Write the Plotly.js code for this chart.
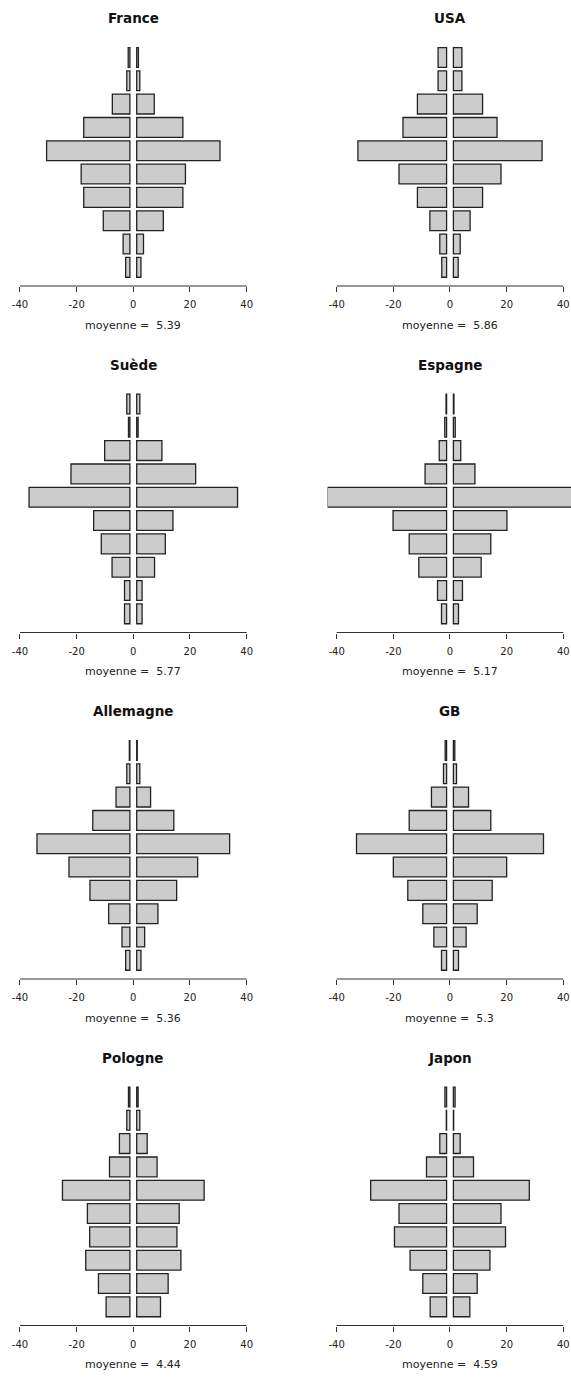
<!DOCTYPE html>
<html>
<head>
<meta charset="utf-8">
<script src="https://cdn.plot.ly/plotly-3.0.1.min.js"></script>
<style>html,body{margin:0;padding:0;background:#fff;}</style>
</head>
<body>
<div id="chart" style="width:571px;height:1386px;"></div>
<script>
// ---- data (levels 1..10, bottom to top; percentages) ----
var levels = [1, 2, 3, 4, 5, 6, 7, 8, 9, 10];
var countries = ["France", "USA", "Suède", "Espagne", "Allemagne", "GB", "Pologne", "Japon"];
var moyennes = ["5.39", "5.86", "5.77", "5.17", "5.36", "5.3", "4.44", "4.59"];
var france    = [1.5, 2.4, 9.4, 16.3, 17.2, 29.4, 16.3, 6.2, 1.1, 0.6];
var usa       = [1.7, 2.4, 5.9, 10.3, 16.8, 31.3, 15.4, 10.3, 3.0, 3.0];
var suede     = [1.9, 1.9, 6.3, 10.1, 12.8, 35.6, 20.8, 8.9, 0.5, 1.1];
var espagne   = [1.8, 3.2, 9.8, 13.2, 18.9, 42.1, 7.6, 2.6, 0.65, 0.2];
var allemagne = [1.5, 2.8, 7.5, 14.1, 21.5, 32.8, 13.1, 4.9, 1.1, 0.2];
var gb        = [1.8, 4.5, 8.4, 13.7, 18.8, 31.8, 13.2, 5.35, 1.1, 0.5];
var pologne   = [8.4, 11.1, 15.6, 14.2, 15.0, 23.8, 7.2, 3.7, 1.1, 0.5];
var japon     = [5.8, 8.4, 12.9, 18.4, 16.8, 26.8, 7.1, 2.4, 0.1, 0.6];
var tickVals  = [-40, -20, 0, 20, 40];
var tickText  = ["-40", "-20", "0", "20", "40"];

var series = [france, usa, suede, espagne, allemagne, gb, pologne, japon];

// ---- styling / geometry ----
var W = 571, H = 1386, rowH = 346.5;
var GAP = 1.2;                 // half-gap around 0
var plotTop = 38.8, plotBot = 286;   // px within a row
var colX = [
  {domain: [10.9 / W, 255.7 / W], range: [-43.2, 43.2]},
  {domain: [327.6 / W, 1], range: [-43.2, 42.71]}
];
var barFill = "#cccccc", barLine = "#222222";

var data = [], shapes = [], annotations = [];
var layout = {
  width: W, height: H,
  margin: {l: 0, r: 0, t: 0, b: 0},
  paper_bgcolor: "#ffffff", plot_bgcolor: "#ffffff",
  showlegend: false, bargap: 0.15, barmode: "overlay",
  font: {family: "DejaVu Sans", color: "#222"}
};

for (var i = 0; i < countries.length; i++) {
  var n = i + 1;
  var sfx = n === 1 ? "" : String(n);
  var row = Math.floor(i / 2), col = i % 2;
  var xa = "x" + sfx, ya = "y" + sfx;
  var vals = series[i];
  var common = {
    type: "bar", orientation: "h", y: levels,
    xaxis: xa, yaxis: ya, hoverinfo: "skip",
    marker: {color: barFill, line: {color: barLine, width: 1.3}}
  };
  data.push(Object.assign({}, common, {x: vals, base: GAP}));
  data.push(Object.assign({}, common, {x: vals.map(function (v) { return -v; }), base: -GAP}));

  var yTopPx = row * rowH + plotTop, yBotPx = row * rowH + plotBot;
  layout["xaxis" + sfx] = {
    domain: colX[col].domain, range: colX[col].range, anchor: ya,
    tickmode: "array", tickvals: tickVals, ticktext: tickText,
    ticks: "outside", ticklen: 5, tickwidth: 1, tickcolor: "#333",
    ticklabelstandoff: 4,
    showgrid: false, zeroline: false, showline: false, fixedrange: true,
    tickfont: {family: "DejaVu Sans", size: 10, color: "#222"}
  };
  layout["yaxis" + sfx] = {
    domain: [1 - yBotPx / H, 1 - yTopPx / H], range: [0.2, 10.8], anchor: xa,
    visible: false, fixedrange: true
  };
  shapes.push({
    type: "line", xref: xa, yref: ya + " domain",
    x0: -40, x1: 40, y0: 0, y1: 0,
    line: {color: "#333", width: 1}
  });
  annotations.push({
    xref: xa, yref: "paper", x: 0, y: 1 - (row * rowH + 18) / H,
    xanchor: "center", yanchor: "middle", showarrow: false,
    text: countries[i],
    font: {family: "DejaVu Sans", size: 13.5, weight: 700, color: "#111"}
  });
  annotations.push({
    xref: xa, yref: "paper", x: 0, y: 1 - (row * rowH + 325) / H,
    xanchor: "center", yanchor: "middle", showarrow: false,
    text: "moyenne = \u00a0" + moyennes[i],
    font: {family: "DejaVu Sans", size: 11, color: "#222"}
  });
}
layout.shapes = shapes;
layout.annotations = annotations;

Plotly.newPlot("chart", data, layout, {displayModeBar: false, staticPlot: true});
</script>
</body>
</html>
